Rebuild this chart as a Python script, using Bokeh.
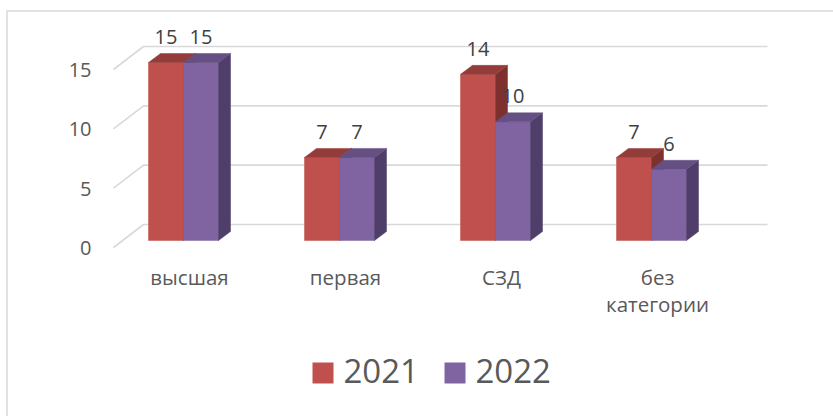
from bokeh.plotting import figure
from bokeh.models import Range1d
from bokeh.core.properties import value
from bokeh.embed import file_html
from bokeh.resources import INLINE

# ---- data ----
categories = ["высшая", "первая", "СЗД", "без\nкатегории"]
series_names = ["2021", "2022"]
values_2021 = [15, 7, 14, 7]
values_2022 = [15, 7, 10, 6]
y_ticks = [0, 5, 10, 15]
y_tick_labels = ["0", "5", "10", "15"]

# ---- layout / style ----
W, H = 833, 416
PX = 178 / 15.0          # pixels per unit
BASE = 240               # px from top where value 0 sits (bar front plane)
FONT = "Open Sans"
TXT = "#595959"
GRID = "#d9d9d9"
front_cols = ["#C0504D", "#8064A2"]
top_cols = ["#943C3A", "#654F83"]
side_cols = ["#7E302E", "#4F3E69"]
BL = 0.42                # baseline correction (fraction of font size)


def vy(px_from_top):
    return (BASE - px_from_top) / PX


def dv(px):
    return px / PX


p = figure(width=W, height=H, x_range=Range1d(0, W), y_range=Range1d(vy(H), vy(0)),
           output_backend="svg", toolbar_location=None, min_border=0,
           x_axis_location=None, y_axis_location=None)
p.grid.visible = False
p.outline_line_color = None
p.background_fill_color = "white"
p.border_fill_color = "white"

# chart border (top & left visible)
p.line(x=[6.5, 6.5, W + 10], y=[vy(H + 10), vy(10.5), vy(10.5)], line_color=GRID, line_width=1.5)

# gridlines: front floor -> back wall -> across
FLOOR_X, WALL_X0, WALL_X1 = 113, 143, 767
for t in y_ticks:
    p.line(x=[FLOOR_X, WALL_X0, WALL_X1], y=[t - dv(7), t + dv(16), t + dv(16)],
           line_color=GRID, line_width=1.6)

# y tick labels
p.text(x=[91] * len(y_ticks), y=[t - dv(7) - dv(9 - BL * 20) for t in y_ticks], text=y_tick_labels,
       text_align="right", text_baseline="alphabetic", text_font=value(FONT),
       text_font_size="20px", text_color=TXT)

# bars (3D)
G0, GSTEP, BW, DX, DY = 183, 156, 35, 12, 9
series = [values_2021, values_2022]
lab_x, lab_y, lab_t = [], [], []
for i in range(len(categories)):
    c = G0 + GSTEP * i
    for s, vals in enumerate(series):
        v = vals[i]
        l = c - BW + BW * s
        r = l + BW
        p.quad(left=[l], right=[r], bottom=[0], top=[v], fill_color=front_cols[s],
               line_color=front_cols[s], line_width=0.5)
        p.patch(x=[r, r + DX, r + DX, r], y=[0, dv(DY), v + dv(DY), v], fill_color=side_cols[s],
                line_color=side_cols[s], line_width=0.5)
        p.patch(x=[l, r, r + DX, l + DX], y=[v, v, v + dv(DY), v + dv(DY)], fill_color=top_cols[s],
                line_color=top_cols[s], line_width=0.5)
        lab_x.append((l + r) / 2)
        lab_y.append(v + dv(DY + 8 + BL * 20))
        lab_t.append(str(v))

p.text(x=lab_x, y=lab_y, text=lab_t, text_align="center", text_baseline="alphabetic",
       text_font=value(FONT), text_font_size="20px", text_color="#404040")

# category labels
cx, cy, ct = [], [], []
for i, cat in enumerate(categories):
    for k, line in enumerate(cat.split("\n")):
        cx.append(G0 + GSTEP * i + 6)
        cy.append(vy(285 + 27 * k - BL * 20.5))
        ct.append(line)
p.text(x=cx, y=cy, text=ct, text_align="center", text_baseline="alphabetic",
       text_font=value(FONT), text_font_size="20.5px", text_color=TXT)

# legend
LEG_X = [312, 444]
for s, name in enumerate(series_names):
    x0 = LEG_X[s]
    p.quad(left=[x0], right=[x0 + 21], top=[vy(362)], bottom=[vy(383)], fill_color=front_cols[s],
           line_color=None)
    p.text(x=[x0 + 31], y=[vy(384 - BL * 33)], text=[name], text_align="left", text_baseline="alphabetic",
           text_font=value(FONT), text_font_size="33px", text_color=TXT)

open("out.html", "w").write(file_html(p, INLINE))
